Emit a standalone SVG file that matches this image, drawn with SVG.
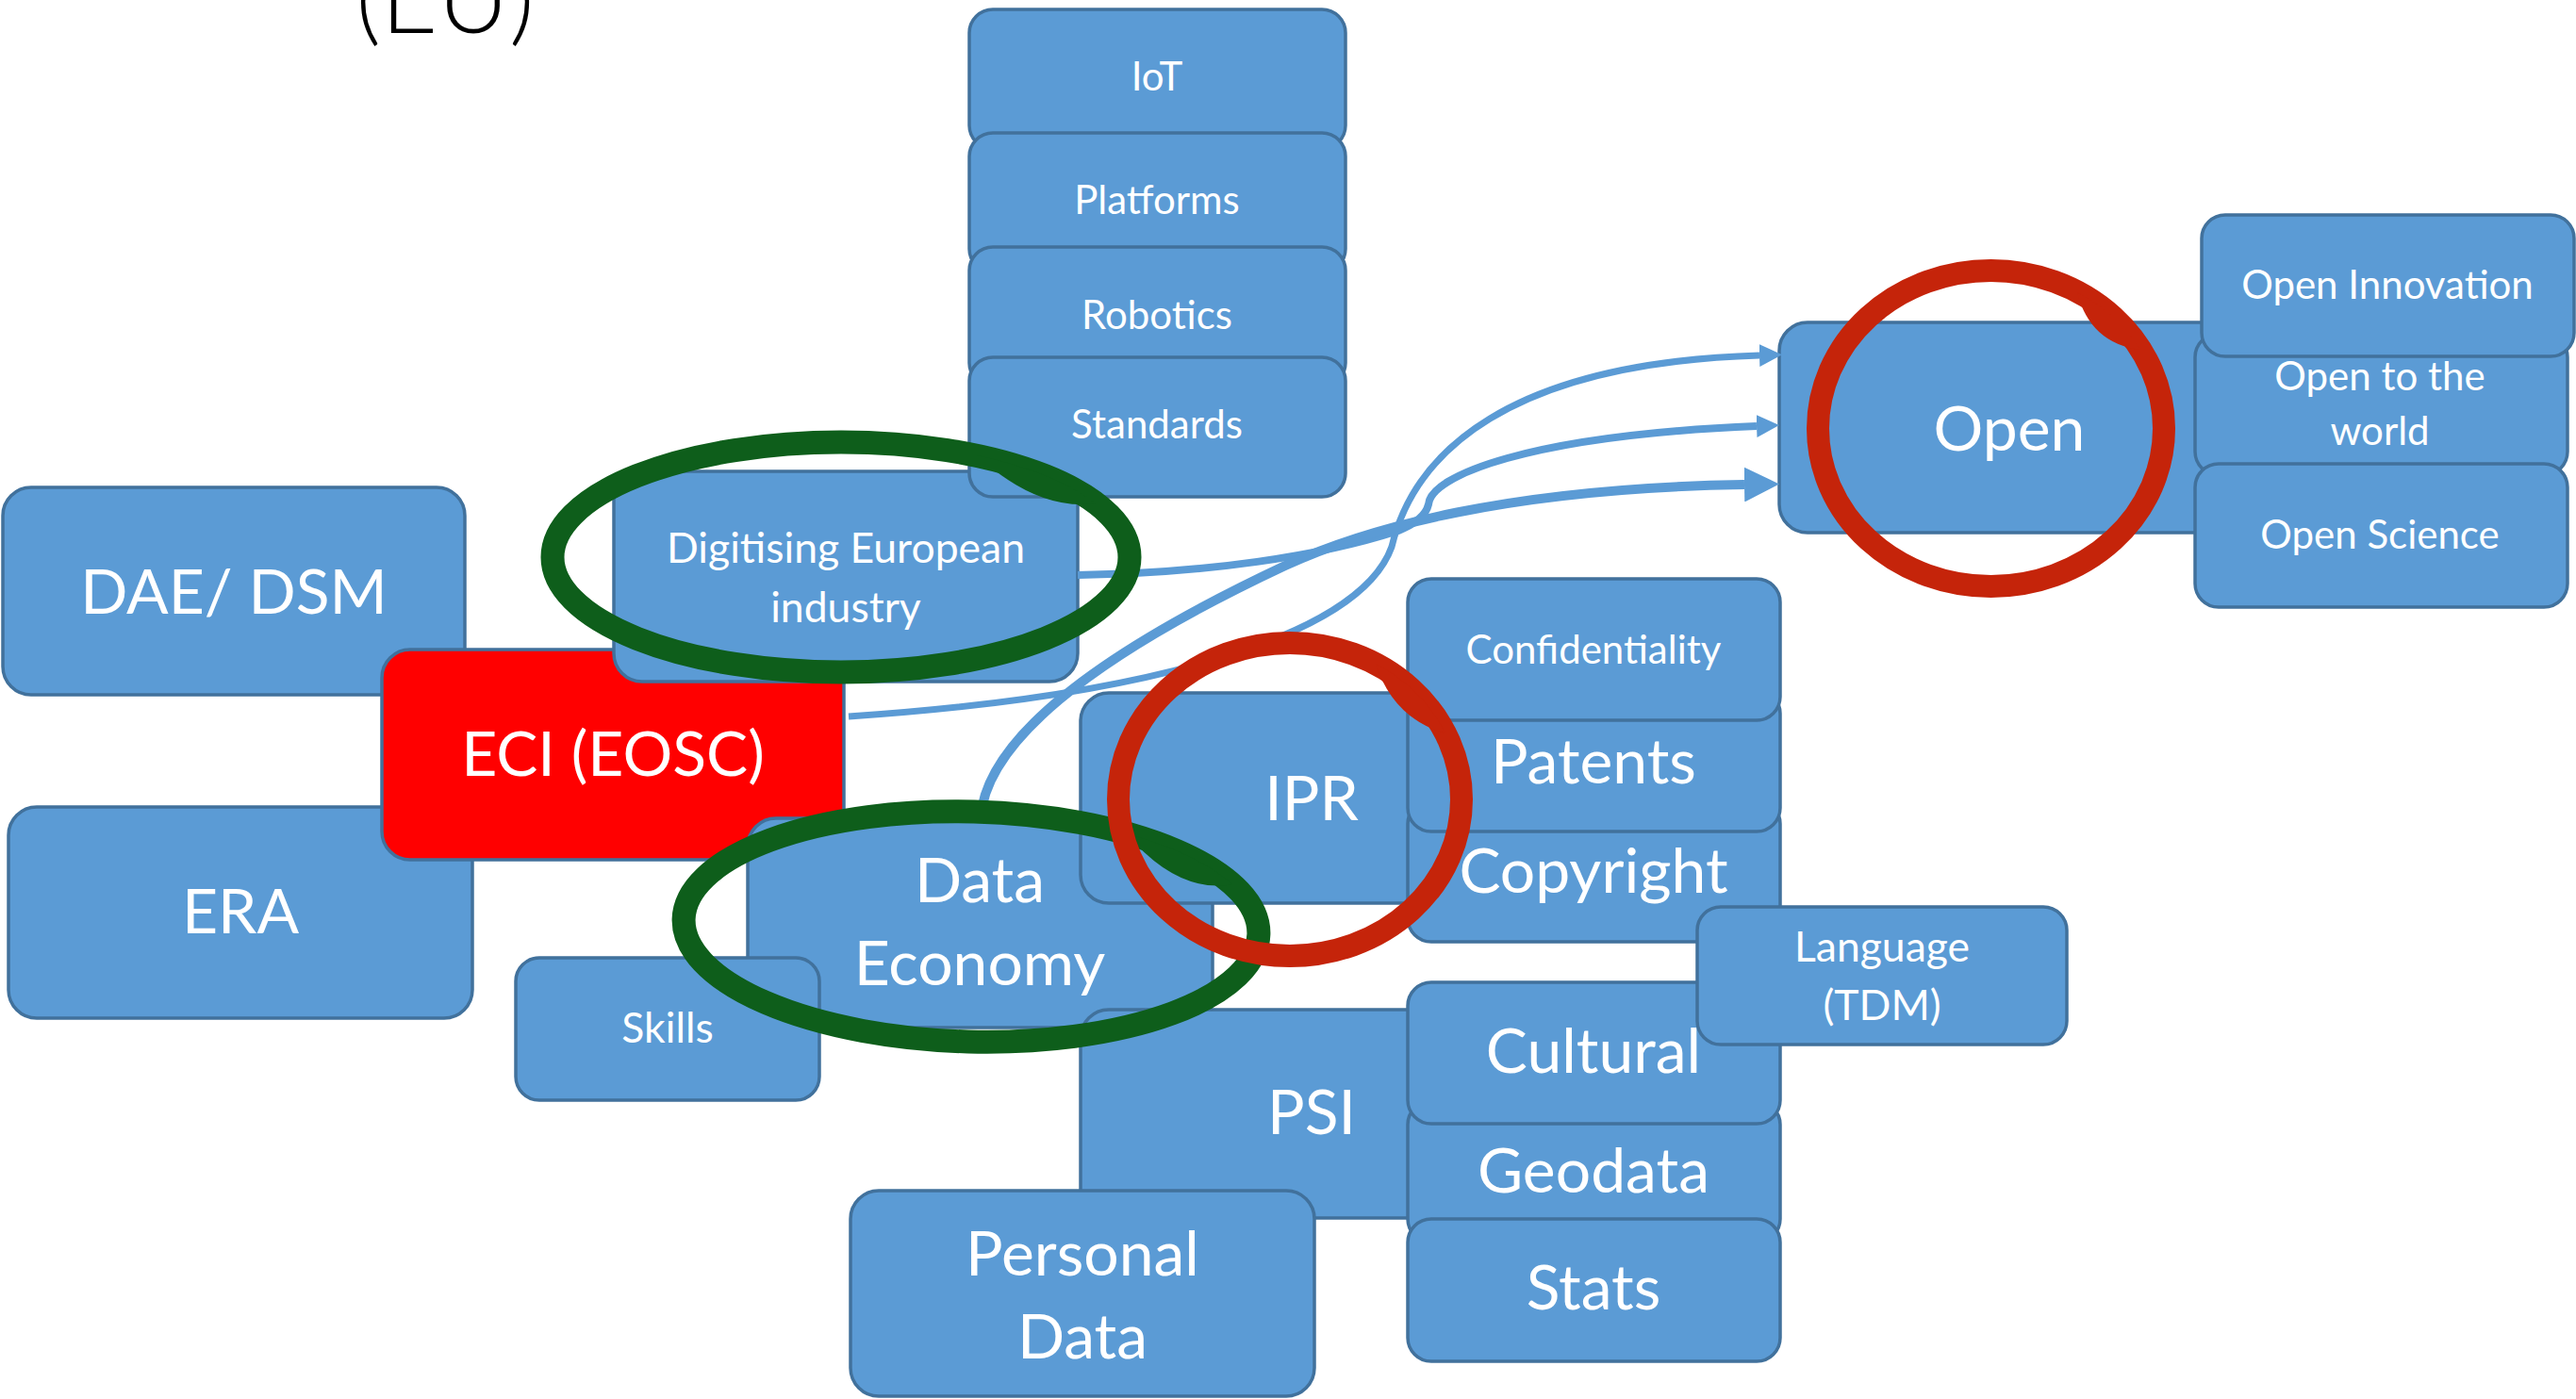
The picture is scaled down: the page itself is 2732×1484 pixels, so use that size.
<svg xmlns="http://www.w3.org/2000/svg" width="2732" height="1484" viewBox="0 0 2732 1484">
<style>
.box{fill:#5B9BD5;stroke:#41719C;stroke-width:3.5}
.red{fill:#FF0000;stroke:#41719C;stroke-width:3.5}
.t{font-family:Lato,"Open Sans",sans-serif;fill:#FFFFFF;text-anchor:middle}
.big{font-size:66px}
.sm{font-size:42px}
.md{font-size:44.5px}
.conn{fill:none;stroke:#5B9BD5}
.green{fill:none;stroke:#0E5E1B;stroke-width:25}
.redink{fill:none;stroke:#C5240A;stroke-width:24}
.gfill{fill:#0E5E1B}
.rfill{fill:#C5240A}
</style>
<defs>
<marker id="ahS" viewBox="0 0 10 10" refX="0" refY="5" markerWidth="24" markerHeight="24" markerUnits="userSpaceOnUse" orient="auto"><path d="M0,0 L10,5 L0,10 Z" fill="#5B9BD5"/></marker>
<marker id="ahL" viewBox="0 0 10 10" refX="0" refY="5" markerWidth="37" markerHeight="37" markerUnits="userSpaceOnUse" orient="auto"><path d="M0,0 L10,5 L0,10 Z" fill="#5B9BD5"/></marker>
</defs>
<rect width="2732" height="1484" fill="#FFFFFF"/>
<text x="472" y="35" font-family="Lato,'Open Sans',sans-serif" font-weight="300" font-size="104" fill="#000000" text-anchor="middle">(EU)</text>

<g id="dae"><rect class="box" x="3" y="517" width="490" height="220" rx="30"/><text class="t big" x="248" y="651">DAE/ DSM</text></g>
<g id="era"><rect class="box" x="9" y="856" width="492" height="224" rx="30"/><text class="t big" x="255" y="990">ERA</text></g>
<g id="eci"><rect class="red" x="405" y="689" width="490" height="223" rx="30"/><text class="t big" x="650" y="823">ECI (EOSC)</text></g>
<g id="dataeconomy"><rect class="box" x="793" y="868" width="493" height="222" rx="30"/><text class="t big" x="1039" y="957">Data</text><text class="t big" x="1039" y="1045">Economy</text></g>
<g id="skills"><rect class="box" x="547" y="1016" width="322" height="151" rx="25"/><text class="t md" x="708" y="1106">Skills</text></g>
<g id="digitising"><rect class="box" x="651" y="500" width="492" height="223" rx="30"/><text class="t md" x="897" y="597">Digitising European</text><text class="t md" x="897" y="660">industry</text></g>
<g id="iot"><rect class="box" x="1028" y="10" width="399" height="148" rx="25"/><text class="t sm" x="1227" y="96">IoT</text></g>
<g id="platforms"><rect class="box" x="1028" y="141" width="399" height="148" rx="25"/><text class="t sm" x="1227" y="227">Platforms</text></g>
<g id="robotics"><rect class="box" x="1028" y="262" width="399" height="148" rx="25"/><text class="t sm" x="1227" y="349">Robotics</text></g>
<g id="standards"><rect class="box" x="1028" y="379" width="399" height="148" rx="25"/><text class="t sm" x="1227" y="465">Standards</text></g>
<g id="ipr"><rect class="box" x="1146" y="735" width="490" height="223" rx="30"/><text class="t big" x="1391" y="870">IPR</text></g>
<g id="psi"><rect class="box" x="1146" y="1071" width="490" height="221" rx="30"/><text class="t big" x="1391" y="1203">PSI</text></g>
<g id="personaldata"><rect class="box" x="902" y="1263" width="492" height="218" rx="30"/><text class="t big" x="1148" y="1353">Personal</text><text class="t big" x="1148" y="1441">Data</text></g>
<g id="copyright"><rect class="box" x="1493" y="849" width="395" height="150" rx="25"/><text class="t big" x="1690" y="947">Copyright</text></g>
<g id="patents"><rect class="box" x="1493" y="732" width="395" height="150" rx="25"/><text class="t big" x="1690" y="831">Patents</text></g>
<g id="confidentiality"><rect class="box" x="1493" y="614" width="395" height="150" rx="25"/><text class="t sm" x="1690" y="704">Confidentiality</text></g>
<g id="geodata"><rect class="box" x="1493" y="1168" width="395" height="150" rx="25"/><text class="t big" x="1690" y="1265">Geodata</text></g>
<g id="cultural"><rect class="box" x="1493" y="1042" width="395" height="150" rx="25"/><text class="t big" x="1690" y="1138">Cultural</text></g>
<g id="stats"><rect class="box" x="1493" y="1293" width="395" height="151" rx="25"/><text class="t big" x="1690" y="1389">Stats</text></g>
<g id="language"><rect class="box" x="1800" y="962" width="392" height="146" rx="25"/><text class="t md" x="1996" y="1020">Language</text><text class="t md" x="1996" y="1082">(TDM)</text></g>
<g id="open"><rect class="box" x="1887" y="342" width="490" height="223" rx="30"/><text class="t big" x="2131" y="478">Open</text></g>
<g id="opentotheworld"><rect class="box" x="2328" y="354" width="395" height="150" rx="25"/><text class="t sm" x="2524" y="414">Open to the</text><text class="t sm" x="2524" y="472">world</text></g>
<g id="openinnovation"><rect class="box" x="2335" y="228" width="395" height="150" rx="25"/><text class="t sm" x="2532" y="317">Open Innovation</text></g>
<g id="openscience"><rect class="box" x="2328" y="492" width="395" height="152" rx="25"/><text class="t sm" x="2524" y="582">Open Science</text></g>

<g id="connectors">
<path class="conn" stroke-width="7" marker-end="url(#ahS)" d="M900,760 C1200,740 1440,680 1476,580 C1500,480 1600,385 1866,377"/>
<path class="conn" stroke-width="8" marker-end="url(#ahS)" d="M1143,610 C1280,608 1400,590 1483,563 C1500,556 1512,548 1515,535 C1517,505 1620,462 1863,452"/>
<path class="conn" stroke-width="10" marker-end="url(#ahL)" d="M1040,868 C1045,790 1150,700 1363,600 C1450,560 1600,518 1850,514"/>
</g>

<g id="ink">
<ellipse class="green" cx="892" cy="591" rx="306" ry="122"/>
<path class="gfill" d="M1036,483 A306,122 0 0 1 1162,534 Q1101,542.5 1036,483 Z"/>
<g transform="rotate(1.5 1030 983)">
<ellipse class="green" cx="1030" cy="983" rx="305" ry="122"/>
<path class="gfill" d="M1192,880 A305,122 0 0 1 1306,931 Q1248,942.5 1192,880 Z"/>
</g>
<ellipse class="redink" cx="1368" cy="848" rx="182" ry="166"/>
<path class="rfill" d="M1459,704 A182,166 0 0 1 1533,778 Q1477.4,761.8 1459,704 Z"/>
<ellipse class="redink" cx="2111.5" cy="454.5" rx="183.5" ry="167.5"/>
<path class="rfill" d="M2203,310 A183.5,167.5 0 0 1 2270,371 Q2216.5,364.1 2203,310 Z"/>
</g>
</svg>
